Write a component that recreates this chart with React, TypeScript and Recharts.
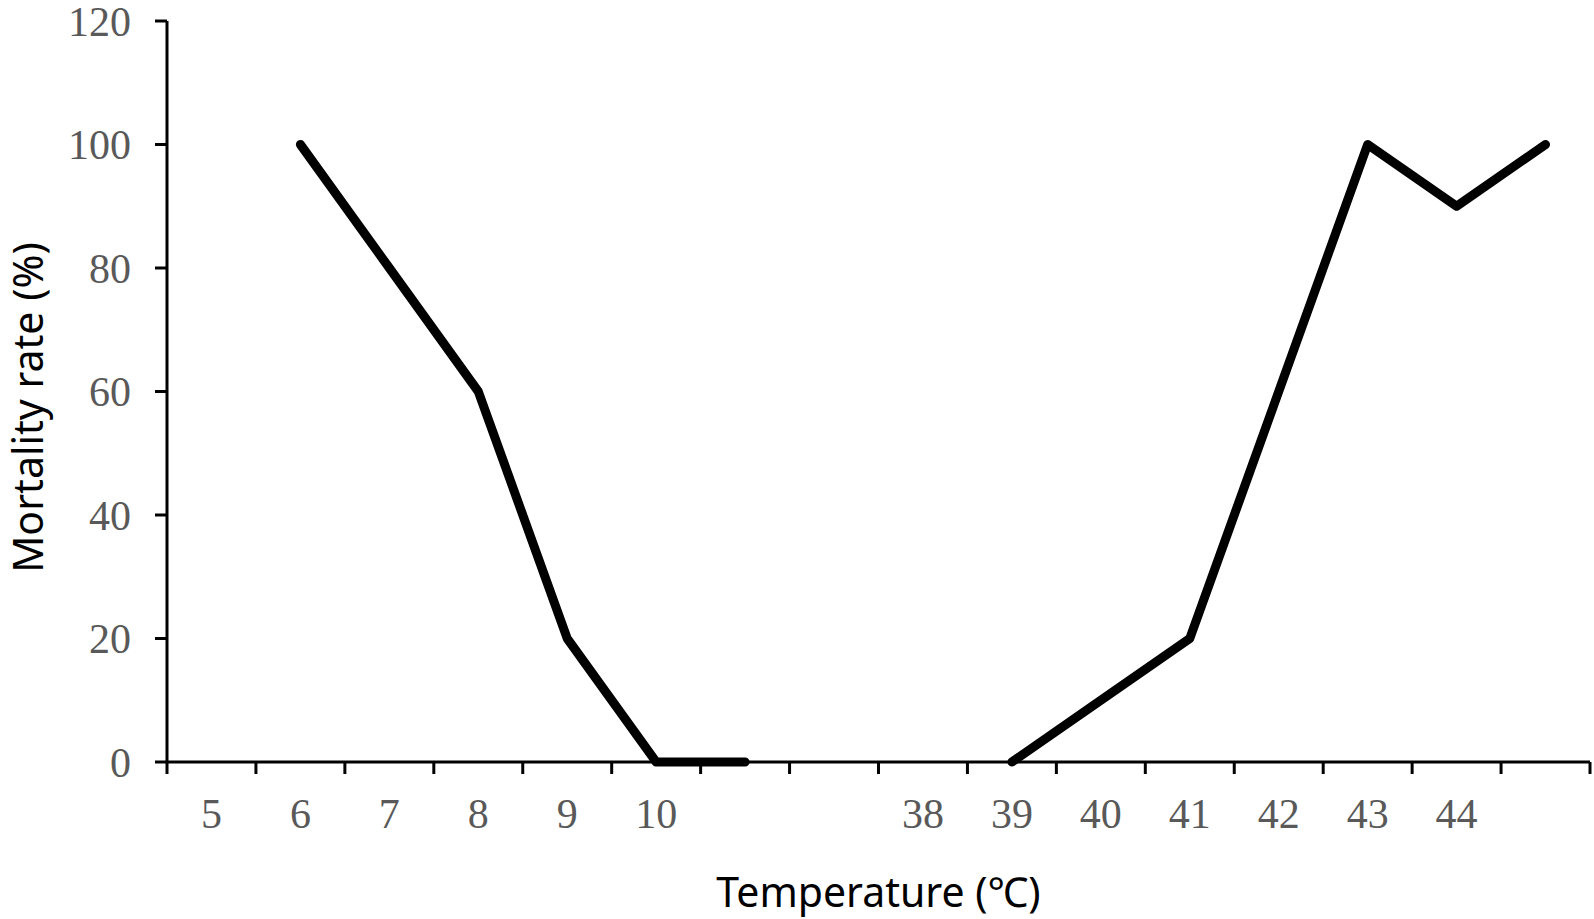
import { Line, LineChart, XAxis, YAxis } from 'recharts'

// one slot per category on the x axis; blank labels are unlabeled slots
const temperatures = ['5', '6', '7', '8', '9', '10', '', '', '38', '39', '40', '41', '42', '43', '44', '']
const mortality: (number | null)[] = [null, 100, 80, 60, 20, 0, 0, null, null, 0, 10, 20, 60, 100, 90, 100]
const yTicks = [0, 20, 40, 60, 80, 100, 120]

const chartData = temperatures.map((label, i) => ({ slot: i + 0.5, label, mortality: mortality[i] }))
const slotCenters = chartData.map(d => d.slot)
const slotEdges = [...temperatures.map((_, i) => i), temperatures.length]

const tickFont = { fill: '#595959', fontFamily: '"Liberation Serif", serif', fontSize: 42 }
const labelFont = '"Noto Sans", "Open Sans", sans-serif'

function YLabel({ viewBox }: any) {
  const cx = viewBox.x + 27
  const cy = viewBox.y + viewBox.height / 2 + 16
  return (
    <text x={cx} y={cy} transform={`rotate(-90, ${cx}, ${cy})`} textAnchor="middle" dominantBaseline="central"
      fill="#000" fontFamily={labelFont} fontSize={41}>
      Mortality rate (%)
    </text>
  )
}

export default function App() {
  return (
    <div style={{ position: 'fixed', left: 0, top: 0, background: '#fff' }}>
      <LineChart width={1594} height={919} data={chartData} margin={{ top: 21, right: 4, bottom: 0, left: 0 }}>
        <XAxis xAxisId="frame" dataKey="slot" type="number" domain={[0, temperatures.length]} ticks={slotEdges}
          interval={0} tickFormatter={() => ''} tickSize={12} height={14}
          axisLine={{ stroke: '#000', strokeWidth: 3 }} tickLine={{ stroke: '#000', strokeWidth: 3 }} />
        <XAxis xAxisId="labels" dataKey="slot" type="number" domain={[0, temperatures.length]} ticks={slotCenters}
          interval={0} tickFormatter={(_v, i) => temperatures[i]} axisLine={false} tickLine={false}
          tickMargin={16} tick={tickFont} height={143}
          label={{ value: 'Temperature (℃)', position: 'insideBottom', offset: 12, fill: '#000', fontFamily: labelFont, fontSize: 41 }} />
        <YAxis type="number" domain={[0, 120]} ticks={yTicks} interval={0} width={167} tickSize={12} tickMargin={24}
          tick={tickFont} axisLine={{ stroke: '#000', strokeWidth: 3 }} tickLine={{ stroke: '#000', strokeWidth: 3 }}
          label={<YLabel />} />
        <Line xAxisId="labels" type="linear" dataKey="mortality" stroke="#000" strokeWidth={9} dot={false}
          strokeLinecap="round" strokeLinejoin="round" connectNulls={false} isAnimationActive={false} />
      </LineChart>
    </div>
  )
}
